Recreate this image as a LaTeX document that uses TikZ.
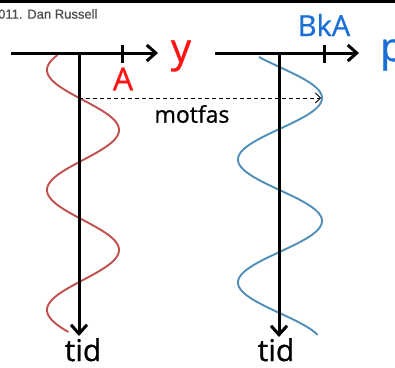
\documentclass[tikz,border=0pt]{standalone}
\usepackage{fontspec}
\setmainfont{Open Sans}[FakeBold=0.8]
\newfontfamily\credfont{Liberation Sans}[FakeBold=0.6]
\usetikzlibrary{arrows.meta}
\definecolor{wred}{HTML}{C0504D}
\definecolor{wblue}{HTML}{4F8FBA}
\definecolor{lred}{HTML}{FF1414}
\definecolor{lblue}{HTML}{1A6FD6}
\begin{document}
\begin{tikzpicture}[x=1pt,y=-1pt,
  axis/.style={line width=3pt,-{Straight Barb[length=9pt,width=16pt]}},
  tickmark/.style={line width=3pt},
  wave/.style={line width=1.9pt},
  lbl/.style={inner sep=0pt},
  phasearrow/.style={line width=0.8pt,dash pattern=on 4pt off 3pt,-{Straight Barb[length=5pt,width=10pt]}}]
\useasboundingbox (0,0) rectangle (395,367);
\fill[white] (0,0) rectangle (395,367);
\fill[black] (0,0) rectangle (395,3);
% credit
\node[lbl,anchor=west,text=black!70,font=\credfont\fontsize{13}{14}\selectfont] (cred) at (-2,14) {011. Dan Russell};
% waves
\draw[wave,wred] plot[domain=55:332,samples=200,smooth] ({83-36*cos(3*(\x-70))},\x);
\draw[wave,wblue] plot[domain=57:335,samples=200,smooth] ({280+42*cos(2.927*(\x-98))},\x);
% coordinates
\coordinate (h1s) at (11,53);  \coordinate (h1e) at (158,53);
\coordinate (v1s) at (79,53);  \coordinate (v1e) at (79,336);
\coordinate (h2s) at (215,53); \coordinate (h2e) at (359,53);
\coordinate (v2s) at (279,53); \coordinate (v2e) at (279,337);
\coordinate (t1a) at (122,45); \coordinate (t1b) at (122,63);
\coordinate (t2a) at (324,45); \coordinate (t2b) at (324,63);
\coordinate (d1) at (79,98);   \coordinate (d2) at (321,98);
% axes
\draw[axis] (h1s) -- (h1e);
\draw[axis] (v1s) -- (v1e);
\draw[axis] (h2s) -- (h2e);
\draw[axis] (v2s) -- (v2e);
\draw[tickmark] (t1a) -- (t1b);
\draw[tickmark] (t2a) -- (t2b);
\draw[phasearrow] (d1) -- (d2);
% labels
\node[lbl,text=lred,font=\fontsize{40}{40}\selectfont] (ylab) at (181,56) {y};
\node[lbl,text=lblue,font=\fontsize{40}{40}\selectfont,anchor=west] (plab) at (380,55) {p};
\node[lbl,text=lred,font=\fontsize{32}{32}\selectfont] (alab) at (123,79) {A};
\node[lbl,text=lblue,font=\fontsize{29}{29}\selectfont] (bka) at (324,25) {BkA};
\node[lbl,font=\fontsize{23}{23}\selectfont] (mot) at (192,114) {motfas};
\node[lbl,font=\fontsize{30}{30}\selectfont,anchor=base] (tid1) at (83,361) {tid};
\node[lbl,font=\fontsize{30}{30}\selectfont,anchor=base] (tid2) at (276,361) {tid};
\end{tikzpicture}
\end{document}
